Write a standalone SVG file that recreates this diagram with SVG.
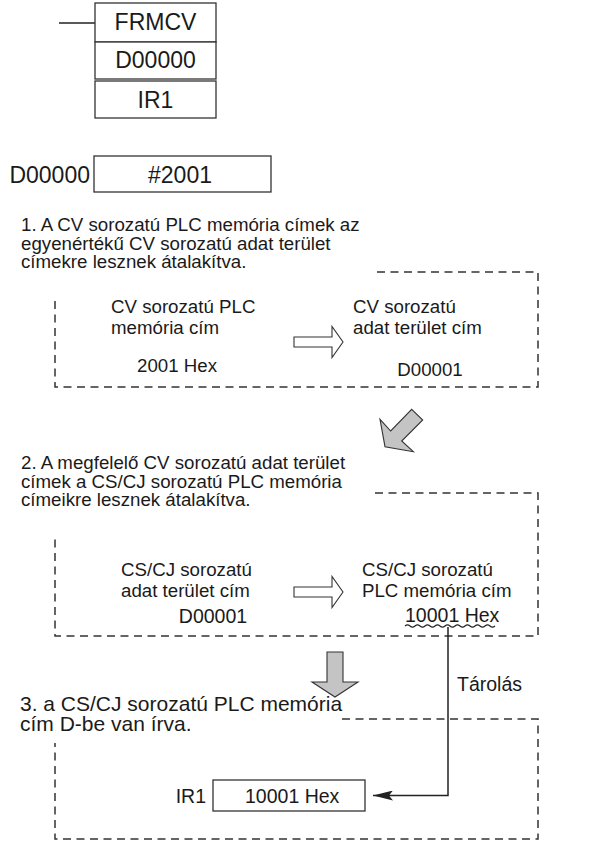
<svg xmlns="http://www.w3.org/2000/svg" width="612" height="841" viewBox="0 0 612 841">
  <style>
    text { font-family: "Liberation Sans", Arial, Helvetica, sans-serif; fill: #1a1a1a; }
    .big { font-size: 23px; }
    .body { font-size: 18.7px; }
    .val { font-size: 19.5px; }
    .step3 { font-size: 21px; }
    .mid { text-anchor: middle; }
    .box { fill: #fff; stroke: #333; stroke-width: 1.3; }
    .dash { fill: none; stroke: #333; stroke-width: 1.5; stroke-dasharray: 8 5.5; }
    .wire { fill: none; stroke: #222; stroke-width: 1.5; }
    .hollow { fill: #fff; stroke: #333; stroke-width: 1.1; stroke-linejoin: miter; }
    .grey { fill: #c4c4c4; stroke: #333; stroke-width: 1.1; stroke-linejoin: miter; }
  </style>
  <defs>
    <marker id="head" viewBox="0 0 20 10" refX="20" refY="5" markerWidth="20" markerHeight="10" markerUnits="userSpaceOnUse" orient="auto">
      <path d="M0,0 L20,5 L0,10 L4,5 Z" fill="#222"/>
    </marker>
    <polygon id="hollowArrow" points="0,-5 38,-5 38,-15.5 49,0 38,15.5 38,5 0,5"/>
  </defs>

  <!-- ladder instruction -->
  <g id="frmcv">
    <line x1="59" y1="23" x2="95" y2="23" class="wire" stroke-width="1.3"/>
    <rect x="95" y="3" width="121" height="39" class="box"/>
    <rect x="95" y="42" width="121" height="37" class="box"/>
    <rect x="95" y="81" width="121" height="37" class="box"/>
    <text x="155.5" y="30" class="big mid">FRMCV</text>
    <text x="155.5" y="68" class="big mid">D00000</text>
    <text x="155.5" y="108" class="big mid">IR1</text>
  </g>

  <!-- source word -->
  <g id="source">
    <text x="90" y="183" class="big" text-anchor="end">D00000</text>
    <rect x="94" y="156" width="177" height="36" class="box"/>
    <text x="180" y="183" class="big mid">#2001</text>
  </g>

  <!-- step 1 -->
  <g id="step1">
    <text x="21" y="231" class="body">1. A CV sorozatú PLC memória címek az</text>
    <text x="21" y="249.5" class="body">egyenértékű CV sorozatú adat terület</text>
    <text x="21" y="268" class="body">címekre lesznek átalakítva.</text>
    <path d="M377,272 H538 V387 H55 V297" class="dash"/>
    <text x="111" y="313" class="body">CV sorozatú PLC</text>
    <text x="111" y="334" class="body">memória cím</text>
    <text x="177" y="372" class="body mid">2001 Hex</text>
    <use href="#hollowArrow" x="294" y="342" class="hollow"/>
    <text x="353" y="313" class="body">CV sorozatú</text>
    <text x="353" y="334" class="body">adat terület cím</text>
    <text x="430" y="376" class="body mid">D00001</text>
  </g>

  <!-- step transition -->
  <polygon id="diagArrow" class="grey" points="411.7,409.3 422.7,420 401.7,441 413.3,451.7 385,446.7 380,419.3 390.7,431"/>

  <!-- step 2 -->
  <g id="step2">
    <text x="21" y="469" class="body">2. A megfelelő CV sorozatú adat terület</text>
    <text x="21" y="487.5" class="body">címek a CS/CJ sorozatú PLC memória</text>
    <text x="21" y="506" class="body">címeikre lesznek átalakítva.</text>
    <path d="M375,493 H538 V636 H55 V538" class="dash"/>
    <text x="121" y="576" class="body">CS/CJ sorozatú</text>
    <text x="121" y="597" class="body">adat terület cím</text>
    <text x="213" y="623" class="val mid">D00001</text>
    <use href="#hollowArrow" x="294" y="592" class="hollow"/>
    <text x="362" y="576" class="body">CS/CJ sorozatú</text>
    <text x="362" y="597" class="body">PLC memória cím</text>
    <text x="405" y="622" class="val">10001 Hex</text>
    <path d="M405,626 q2.5,-2.4 5,0 t5,0 t5,0 t5,0 t5,0 t5,0 t5,0 t5,0 t5,0 t5,0 t5,0 t5,0 t5,0 t5,0 t5,0 t5,0 t5,0 t5,0" fill="none" stroke="#222" stroke-width="1.1"/>
  </g>

  <!-- step transition -->
  <polygon id="downArrow" class="grey" points="327,652 343,652 343,682 358,682 335,697 312,682 327,682"/>

  <!-- step 3 -->
  <g id="step3">
    <text x="20" y="711" class="step3">3. a CS/CJ sorozatú PLC memória</text>
    <text x="20" y="731" class="step3">cím D-be van írva.</text>
    <path d="M342,719 H538 V839 H55 V743" class="dash"/>
    <text x="206" y="803" class="val" text-anchor="end">IR1</text>
    <rect x="213" y="780" width="152" height="31" class="box"/>
    <text x="245" y="803" class="val">10001 Hex</text>
  </g>

  <!-- store connector -->
  <g id="connectors">
    <path d="M448,627 V795.5 H373" class="wire" marker-end="url(#head)"/>
    <text x="457" y="691" class="val">Tárolás</text>
  </g>
</svg>
